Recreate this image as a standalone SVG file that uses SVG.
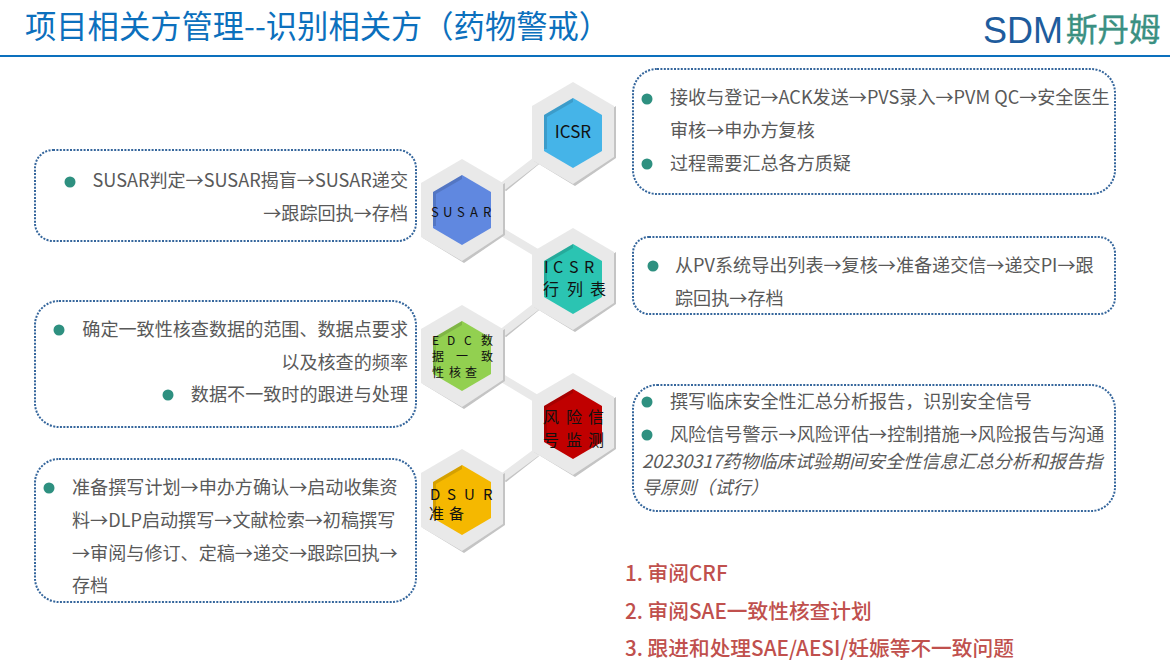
<svg xmlns="http://www.w3.org/2000/svg" width="1170" height="670" viewBox="0 0 1170 670">
<style>
text{font-family:"Noto Sans CJK SC","Noto Sans",sans-serif}
.t{font-size:18.1px;fill:#595959}
.i{font-style:italic}
.r{font-size:20.7px;fill:#c0504d;font-weight:500}
.box{fill:#fff;stroke:#35669c;stroke-width:2;stroke-dasharray:2 1.4}
.dot{fill:#2e9080}
.outer{fill:#e9e9e9}
.sh{fill:#c4c4c4}
.h{fill:#111}
.lnk{stroke:#e9e9e9;stroke-width:8;fill:none}
.lsh{stroke:#c4c4c4;stroke-width:3;fill:none}
</style>
<defs>
<g id="hexo"><polygon class="sh" points="43,-27 43,25 2,53 -39,28 0,0"/><polygon class="outer" points="0,-51 41,-27 41,24 0,51 -41,27 -41,-27"/></g>
<polygon id="hexi" points="0,-35 29,-18 29,18 0,35 -29,18 -29,-18"/>
<polygon id="hexd" points="0,-35 -29,-18 -29,16 -26,16 -26,-16 0,-31" fill="#000" fill-opacity=".13"/>
</defs>
<rect width="1170" height="670" fill="#fff"/>
<text x="25" y="38" font-size="31.3" fill="#0c70bd">项目相关方管理--识别相关方（药物警戒）</text>
<rect x="0" y="55" width="1170" height="2" fill="#0c70bd"/>
<text x="983" y="43" font-size="36" fill="#1e5c9d" style="font-family:'Liberation Sans',sans-serif">SDM</text>
<text x="1066" y="41" font-size="31.5" stroke="#3a9082" stroke-width=".4" fill="#3a9082">斯丹姆</text>

<g id="connectors">
<path class="lsh" d="M505 190L538 163M506 236L534 252M505 336L538 309M506 382L534 398M505 481L538 455"/>
<path class="lnk" d="M502 187L537 160M502 232L537 253M502 333L537 306M502 378L537 399M502 478L537 452"/>
</g>

<g id="box-icsr"><rect class="box" x="633" y="69" width="482" height="125" rx="24"/>
<circle class="dot" cx="647" cy="99" r="5.5"/><text class="t" x="670" y="104">接收与登记→ACK发送→PVS录入→PVM QC→安全医生</text>
<text class="t" x="670" y="137">审核→申办方复核</text>
<circle class="dot" cx="647" cy="164" r="5.5"/><text class="t" x="670" y="170">过程需要汇总各方质疑</text></g>
<g id="box-list"><rect class="box" x="633" y="237" width="482" height="77" rx="16"/>
<circle class="dot" cx="653" cy="266" r="5.5"/><text class="t" x="675" y="272">从PV系统导出列表→复核→准备递交信→递交PI→跟</text>
<text class="t" x="675" y="305">踪回执→存档</text></g>
<g id="box-signal"><rect class="box" x="633" y="385" width="482" height="126" rx="24"/>
<circle class="dot" cx="647" cy="402" r="5.5"/><text class="t" x="670" y="408">撰写临床安全性汇总分析报告，识别安全信号</text>
<circle class="dot" cx="647" cy="435" r="5.5"/><text class="t" x="670" y="441">风险信号警示→风险评估→控制措施→风险报告与沟通</text>
<text class="t i" x="642" y="468">20230317药物临床试验期间安全性信息汇总分析和报告指</text>
<text class="t i" x="642" y="494">导原则（试行）</text></g>
<g id="box-susar"><rect class="box" x="35" y="150" width="381" height="91" rx="18"/>
<circle class="dot" cx="70" cy="182" r="5.5"/><text class="t" x="408" y="187" text-anchor="end">SUSAR判定→SUSAR揭盲→SUSAR递交</text>
<text class="t" x="408" y="220" text-anchor="end">→跟踪回执→存档</text></g>
<g id="box-edc"><rect class="box" x="35" y="301" width="381" height="126" rx="24"/>
<circle class="dot" cx="59" cy="330" r="5.5"/><text class="t" x="408" y="336" text-anchor="end">确定一致性核查数据的范围、数据点要求</text>
<text class="t" x="408" y="369" text-anchor="end">以及核查的频率</text>
<circle class="dot" cx="168" cy="395" r="5.5"/><text class="t" x="408" y="401" text-anchor="end">数据不一致时的跟进与处理</text></g>
<g id="box-dsur"><rect class="box" x="35" y="459" width="381" height="143" rx="24"/>
<circle class="dot" cx="49" cy="488" r="5.5"/><text class="t" x="72" y="494">准备撰写计划→申办方确认→启动收集资</text>
<text class="t" x="72" y="527">料→DLP启动撰写→文献检索→初稿撰写</text>
<text class="t" x="72" y="560">→审阅与修订、定稿→递交→跟踪回执→</text>
<text class="t" x="72" y="592">存档</text></g>

<g id="node-icsr" transform="translate(573 133)"><use href="#hexo"/><use href="#hexi" fill="#45b4e8"/><use href="#hexd"/><text class="h" x="0" y="5" text-anchor="middle" font-size="17">ICSR</text></g>
<g id="node-susar" transform="translate(462 210)"><use href="#hexo"/><use href="#hexi" fill="#6088e0"/><use href="#hexd"/><text class="h" x="-31 -19 -5 8 21" y="7" font-size="13">SUSAR</text></g>
<g id="node-list" transform="translate(573 279)"><use href="#hexo"/><use href="#hexi" fill="#2bc4b2"/><use href="#hexd"/><text class="h" x="-29 -20 -4 11" y="-6" font-size="16">ICSR</text><text class="h" x="-30 -6 17" y="16" font-size="16">行列表</text></g>
<g id="node-edc" transform="translate(462 356)"><use href="#hexo"/><use href="#hexi" fill="#92d050"/><use href="#hexd"/><text class="h" x="-30 -15 2 19" y="-11" font-size="12">EDC数</text><text class="h" x="-30 -6 19" y="5" font-size="12">据一致</text><text class="h" x="-30 -13 3" y="21" font-size="12">性核查</text></g>
<g id="node-signal" transform="translate(573 424)"><use href="#hexo"/><use href="#hexi" fill="#c00000"/><use href="#hexd"/><text class="h" x="-30 -7 15" y="-1" font-size="16">风险信</text><text class="h" x="-30 -7 15" y="22" font-size="16">号监测</text></g>
<g id="node-dsur" transform="translate(462 500)"><use href="#hexo"/><use href="#hexi" fill="#f5b800"/><use href="#hexd"/><text class="h" x="-32 -15 2 21" y="0" font-size="15">DSUR</text><text class="h" x="-33 -13" y="19" font-size="15">准备</text></g>

<g id="tasks"><text class="r" x="625" y="581">1. 审阅CRF</text>
<text class="r" x="625" y="619">2. 审阅SAE一致性核查计划</text>
<text class="r" x="625" y="656">3. 跟进和处理SAE/AESI/妊娠等不一致问题</text></g>
</svg>
